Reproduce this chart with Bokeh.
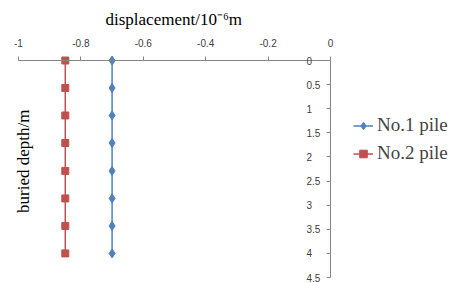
from bokeh.plotting import figure
from bokeh.models import Range1d, LinearAxis, FixedTicker, Legend, LegendItem, Label
from bokeh.embed import file_html
from bokeh.resources import INLINE
import math

# data
depth = [0.0, 0.57, 1.14, 1.71, 2.29, 2.86, 3.43, 4.0]
pile1 = [-0.70, -0.70, -0.70, -0.70, -0.70, -0.70, -0.70, -0.70]
pile2 = [-0.85, -0.85, -0.85, -0.85, -0.85, -0.85, -0.85, -0.85]
x_ticks = [-1.0, -0.8, -0.6, -0.4, -0.2, 0.0]
x_tick_labels = ["-1", "-0.8", "-0.6", "-0.4", "-0.2", "0"]
y_ticks = [0.0, 0.5, 1.0, 1.5, 2.0, 2.5, 3.0, 3.5, 4.0, 4.5]
y_tick_labels = ["0", "0.5", "1", "1.5", "2", "2.5", "3", "3.5", "4", "4.5"]
series_names = ["No.1 pile", "No.2 pile"]

SERIF = "Liberation Serif"
SANS = "Liberation Sans"

p = figure(width=452, height=283, x_range=Range1d(-1.0256, 0.391), y_range=Range1d(4.624, -0.56),
           x_axis_location=None, y_axis_location=None,
           output_backend="svg", toolbar_location=None,
           min_border_left=10, min_border_right=0, min_border_top=33, min_border_bottom=0,
           title="displacement/10\u207b\u2076m")
p.outline_line_color = None
p.xgrid.visible = False
p.ygrid.visible = False
p.background_fill_color = "white"
p.border_fill_color = "white"

p.title.text_font = SERIF
p.title.text_font_size = "17px"
p.title.text_font_style = "normal"
p.title.align = "left"
p.title.offset = 95
p.title.text_color = "#000000"

xa = LinearAxis(ticker=FixedTicker(ticks=x_ticks), bounds=(-1, 0), fixed_location=0,
                major_label_overrides={t: l for t, l in zip(x_ticks, x_tick_labels)})
ya = LinearAxis(ticker=FixedTicker(ticks=y_ticks), bounds=(0, 4.5), fixed_location=0,
                major_label_overrides={t: l for t, l in zip(y_ticks, y_tick_labels)})
for ax in (xa, ya):
    ax.axis_line_color = "#868686"
    ax.major_tick_line_color = "#868686"
    ax.minor_tick_line_color = None
    ax.major_label_text_font = SANS
    ax.major_label_text_font_size = "10px"
    ax.major_label_text_color = "#404040"
xa.major_tick_in = 0
xa.major_tick_out = 4
xa.major_label_standoff = 10
ya.major_tick_in = 4
ya.major_tick_out = 0
ya.major_label_standoff = -24
p.add_layout(xa, "above")
p.add_layout(ya, "right")

blue = "#4F81BD"
red = "#C0504D"
l1 = p.line(pile1, depth, line_color=blue, line_width=1.5)
s1 = p.scatter(pile1, depth, marker="diamond", size=9, fill_color=blue, line_color=blue)
l2 = p.line(pile2, depth, line_color=red, line_width=1.5)
s2 = p.scatter(pile2, depth, marker="square", size=7, fill_color=red, line_color=red)

ylab = Label(x=-0.984, y=2.09, text="buried depth/m", angle=math.pi / 2,
             text_font=SERIF, text_font_size="17px", text_align="center",
             text_baseline="middle", text_color="#000000")
p.add_layout(ylab)

legend = Legend(items=[LegendItem(label=series_names[0], renderers=[l1, s1]),
                       LegendItem(label=series_names[1], renderers=[l2, s2])],
                location=(343, 119), padding=0, margin=0, spacing=6,
                label_text_font=SERIF, label_text_font_size="19px",
                glyph_width=20, glyph_height=19, label_height=19, label_standoff=4,
                background_fill_alpha=0, border_line_color=None)
p.add_layout(legend)

open("out.html", "w").write(file_html(p, INLINE))
